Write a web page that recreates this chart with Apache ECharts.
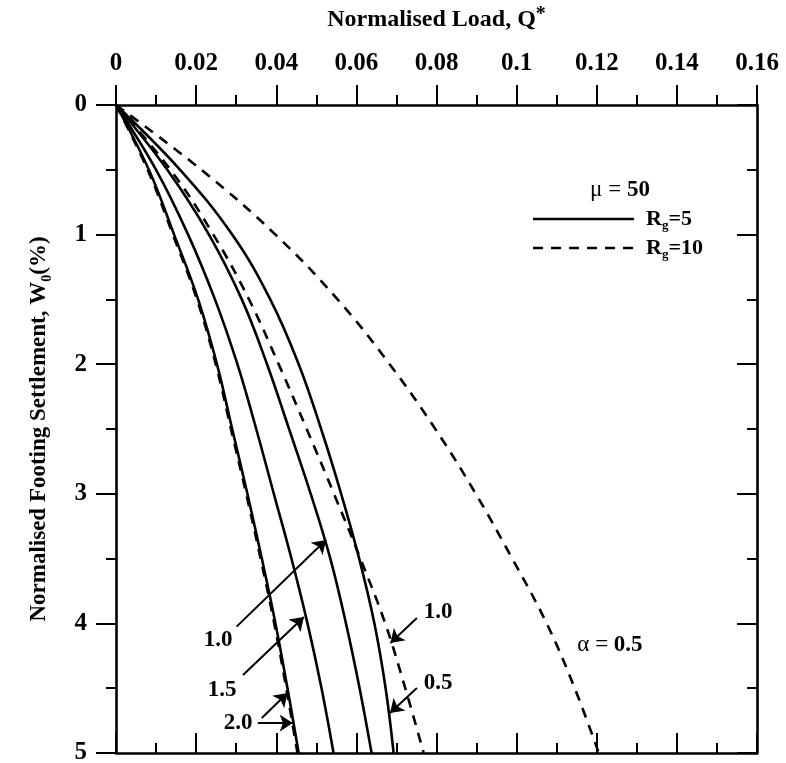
<!DOCTYPE html>
<html>
<head>
<meta charset="utf-8">
<script src="https://cdn.jsdelivr.net/npm/echarts@6/dist/echarts.min.js"></script>
<style>
  html, body { margin: 0; padding: 0; background: #fff; }
  #chart { width: 786px; height: 763px; }
</style>
</head>
<body>
<div id="chart"></div>
<script>
// Normalised footing settlement W0 (%) at which each curve is sampled
const settlement = [0, 0.5, 1, 1.5, 2, 2.5, 3, 3.5, 4, 4.5, 5];

// Normalised load Q* for mu = 50, Rg = 5 (solid curves)
const rg5_a05 = [0, 0.0160, 0.0290, 0.0385, 0.0456, 0.0512, 0.0562, 0.0607, 0.0645, 0.0673, 0.0693];
const rg5_a10 = [0, 0.0128, 0.0232, 0.0314, 0.0377, 0.0432, 0.0486, 0.0535, 0.0574, 0.0608, 0.0638];
const rg5_a15 = [0, 0.0100, 0.0180, 0.0247, 0.0303, 0.0350, 0.0394, 0.0438, 0.0478, 0.0513, 0.0543];
const rg5_a20 = [0, 0.0082, 0.0145, 0.0205, 0.0252, 0.0290, 0.0328, 0.0364, 0.0398, 0.0428, 0.0456];

// Normalised load Q* for mu = 50, Rg = 10 (dashed curves)
const rg10_a05 = [0, 0.0213, 0.0398, 0.0553, 0.0683, 0.0797, 0.0898, 0.0989, 0.1075, 0.1145, 0.1205];
const rg10_a10 = [0, 0.0136, 0.0243, 0.0332, 0.0406, 0.0476, 0.0544, 0.0610, 0.0672, 0.0722, 0.0768];
const rg10_a20 = [0, 0.0079, 0.0142, 0.0202, 0.0249, 0.0287, 0.0325, 0.0361, 0.0395, 0.0425, 0.0453];

// Axis tick labels
const xTicks = ['0', '0.02', '0.04', '0.06', '0.08', '0.1', '0.12', '0.14', '0.16'];
const yTicks = ['0', '1', '2', '3', '4', '5'];

// Curve annotations: arrow tail, arrow head (data coordinates [Q*, W0])
const arrowTails = [[0.0301, 4.025], [0.0317, 4.398], [0.0364, 4.730], [0.0354, 4.769], [0.0751, 3.958], [0.0751, 4.498]];
const arrowHeads = [[0.0524, 3.356], [0.0469, 3.950], [0.0428, 4.537], [0.0441, 4.769], [0.0685, 4.151], [0.0684, 4.691]];
const labelTexts = ['1.0', '1.5', '2.0', '1.0', '0.5'];
const labelAt = [[0.0255, 4.128], [0.0265, 4.514], [0.0305, 4.769], [0.0804, 3.912], [0.0804, 4.460]];

const FONT = '"Liberation Serif", "Times New Roman", serif';

function pairs(q) { return q.map((v, i) => [v, settlement[i]]); }

function curve(name, q, dashed) {
  return {
    name: name,
    type: 'line',
    data: pairs(q),
    smooth: 0.4,
    showSymbol: false,
    symbol: 'none',
    silent: true,
    lineStyle: { color: '#000', width: 2.6, type: dashed ? [10, 8] : 'solid' },
    z: dashed ? 3 : 4
  };
}

const axisLine = { show: true, onZero: false, lineStyle: { color: '#000', width: 2.6 } };
const tickLabelStyle = { color: '#000', fontFamily: FONT, fontWeight: 'bold', fontSize: 25 };

const chart = echarts.init(document.getElementById('chart'), null, { renderer: 'canvas' });

const option = {
  backgroundColor: '#fff',
  animation: false,
  grid: { left: 116, right: 29, top: 105, bottom: 10, containLabel: false, outerBoundsMode: 'none' },
  xAxis: [
    {
      type: 'value', position: 'top', min: 0, max: 0.16, interval: 0.02,
      axisLine: axisLine,
      axisTick: { show: true, inside: false, length: 20, lineStyle: { color: '#000', width: 2 } },
      minorTick: { show: true, splitNumber: 2, length: 10, lineStyle: { color: '#000', width: 2 } },
      splitLine: { show: false },
      axisLabel: Object.assign({ margin: 29, formatter: (v) => xTicks[Math.round(v / 0.02)] }, tickLabelStyle),
      name: '{t|Normalised Load, Q}{sup|*}',
      nameLocation: 'middle', nameGap: 70,
      nameTextStyle: {
        rich: {
          t: { fontFamily: FONT, fontWeight: 'bold', fontSize: 24, color: '#000', lineHeight: 30 },
          sup: { fontFamily: FONT, fontWeight: 'bold', fontSize: 20, color: '#000', verticalAlign: 'top', lineHeight: 30 }
        }
      }
    },
    {
      type: 'value', position: 'bottom', min: 0, max: 0.16, interval: 0.02,
      axisLine: axisLine,
      axisTick: { show: true, inside: true, length: 20, lineStyle: { color: '#000', width: 2 } },
      minorTick: { show: true, splitNumber: 2, length: 10, lineStyle: { color: '#000', width: 2 } },
      splitLine: { show: false },
      axisLabel: { show: false }
    }
  ],
  yAxis: [
    {
      type: 'value', position: 'left', inverse: true, min: 0, max: 5, interval: 1,
      axisLine: axisLine,
      axisTick: { show: true, inside: false, length: 20, lineStyle: { color: '#000', width: 2 } },
      minorTick: { show: true, splitNumber: 2, length: 10, lineStyle: { color: '#000', width: 2 } },
      splitLine: { show: false },
      axisLabel: Object.assign({ margin: 29, formatter: (v) => yTicks[Math.round(v)] }, tickLabelStyle),
      name: '{t|Normalised Footing Settlement, W}{sub|0}{t|(%)}',
      nameLocation: 'middle', nameGap: 62, nameRotate: 90,
      nameTextStyle: {
        rich: {
          t: { fontFamily: FONT, fontWeight: 'bold', fontSize: 23, color: '#000', lineHeight: 30 },
          sub: { fontFamily: FONT, fontWeight: 'bold', fontSize: 14, color: '#000', verticalAlign: 'bottom', lineHeight: 30 }
        }
      }
    },
    {
      type: 'value', position: 'right', inverse: true, min: 0, max: 5, interval: 1,
      axisLine: axisLine,
      axisTick: { show: true, inside: true, length: 20, lineStyle: { color: '#000', width: 2 } },
      minorTick: { show: true, splitNumber: 2, length: 10, lineStyle: { color: '#000', width: 2 } },
      splitLine: { show: false },
      axisLabel: { show: false }
    }
  ],
  series: [
    curve('Rg=10, α=0.5', rg10_a05, true),
    curve('Rg=10, α=1.0', rg10_a10, true),
    curve('Rg=10, α=2.0', rg10_a20, true),
    curve('Rg=5, α=0.5', rg5_a05, false),
    curve('Rg=5, α=1.0', rg5_a10, false),
    curve('Rg=5, α=1.5', rg5_a15, false),
    curve('Rg=5, α=2.0', rg5_a20, false),
    {
      name: 'arrows',
      type: 'lines',
      coordinateSystem: 'cartesian2d',
      xAxisIndex: 0, yAxisIndex: 0,
      silent: true,
      symbol: ['none', 'arrow'],
      symbolSize: [0, 13],
      lineStyle: { color: '#000', width: 2, opacity: 1 },
      data: arrowTails.map((t, i) => ({ coords: [t, arrowHeads[i]] })),
      z: 6
    }
  ]
};

chart.setOption(option);

// Text annotations and the key, placed in data coordinates
function px(pt) { return chart.convertToPixel({ xAxisIndex: 0, yAxisIndex: 0 }, pt); }

const graphics = [];
labelTexts.forEach((t, i) => {
  const p = px(labelAt[i]);
  graphics.push({
    type: 'text', x: p[0], y: p[1], z: 10,
    style: { text: t, font: 'bold 23px ' + FONT, fill: '#000', textAlign: 'center', textVerticalAlign: 'middle' }
  });
});

const alphaPos = px([0.1233, 4.167]);
graphics.push({
  type: 'text', x: alphaPos[0], y: alphaPos[1], z: 10,
  style: {
    text: '{s|α = }{b|0.5}', textAlign: 'center', textVerticalAlign: 'middle',
    rich: {
      s: { font: '23px ' + FONT, fill: '#000' },
      b: { font: 'bold 23px ' + FONT, fill: '#000' }
    }
  }
});

const muPos = px([0.1258, 0.656]);
graphics.push({
  type: 'text', x: muPos[0], y: muPos[1], z: 10,
  style: {
    text: '{s|μ = }{b|50}', textAlign: 'center', textVerticalAlign: 'middle',
    rich: {
      s: { font: '23px ' + FONT, fill: '#000' },
      b: { font: 'bold 23px ' + FONT, fill: '#000' }
    }
  }
});

const keyRows = [
  { w: 0.880, dash: null, text: '{b|R}{sub|g}{b|=5}' },
  { w: 1.103, dash: [10, 8], text: '{b|R}{sub|g}{b|=10}' }
];
keyRows.forEach((r) => {
  const a = px([0.1041, r.w]);
  const b = px([0.1293, r.w]);
  const t = px([0.1323, r.w]);
  graphics.push({
    type: 'line', z: 10,
    shape: { x1: a[0], y1: a[1], x2: b[0], y2: b[1] },
    style: { stroke: '#000', lineWidth: 2.6, lineDash: r.dash }
  });
  graphics.push({
    type: 'text', x: t[0], y: t[1], z: 10,
    style: {
      text: r.text, textAlign: 'left', textVerticalAlign: 'middle',
      rich: {
        b: { font: 'bold 22px ' + FONT, fill: '#000', lineHeight: 26 },
        sub: { font: 'bold 13px ' + FONT, fill: '#000', verticalAlign: 'bottom', lineHeight: 26 }
      }
    }
  });
});

chart.setOption({ graphic: graphics });
</script>
</body>
</html>
